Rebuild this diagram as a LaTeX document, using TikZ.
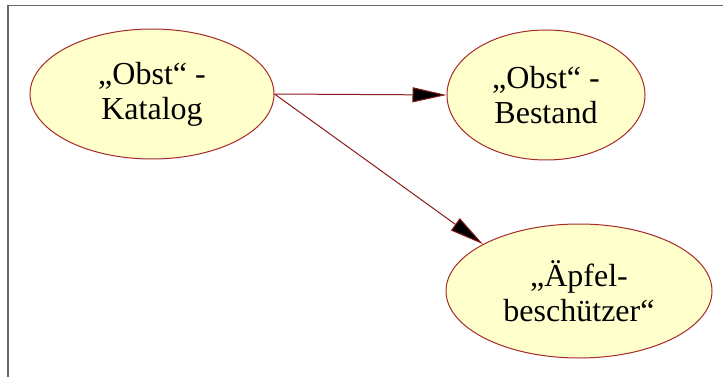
\documentclass[tikz,border=0pt]{standalone}
\usepackage{fontspec}
\setmainfont{Liberation Serif}
\usetikzlibrary{shapes.geometric,arrows.meta}
\definecolor{nodefill}{HTML}{FFFFCC}
\definecolor{noderim}{HTML}{A52A2A}
\definecolor{edgecol}{HTML}{8B1A1A}
\definecolor{framecol}{HTML}{666666}
\tikzset{
  usecase/.style={ellipse, draw=noderim, fill=nodefill, line width=1pt, inner sep=0pt,
    align=center, font=\fontsize{32}{35}\selectfont},
  link/.style={draw=edgecol, line width=1pt,
    -{Triangle[length=34pt,width=15pt,fill=black]}}
}
\begin{document}
\begin{tikzpicture}[x=1pt,y=-1pt]
\useasboundingbox (0,0) rectangle (723,377);
\draw[framecol, line width=1.6pt] (8,377) -- (8,5.5) -- (723,5.5);
\node[usecase, minimum width=244pt, minimum height=130pt] (kat) at (152,94) {„Obst“ -\\Katalog};
\node[usecase, minimum width=198pt, minimum height=130pt] (bes) at (546,95) {„Obst“ -\\Bestand};
\node[usecase, minimum width=266pt, minimum height=134pt] (apf) at (579,291) {„Äpfel-\\beschützer“};
\draw[link] (kat.east) -- (bes.west);
\draw[link] (kat.east) -- (apf.154);
\end{tikzpicture}
\end{document}
